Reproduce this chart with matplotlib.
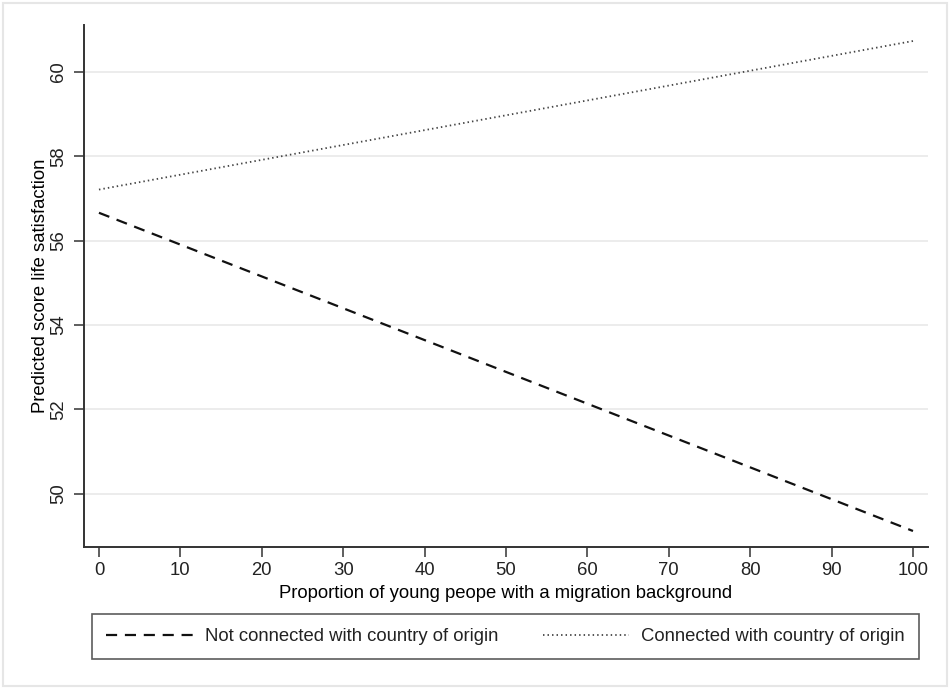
import matplotlib
matplotlib.use('Agg')
import matplotlib.pyplot as plt
from matplotlib.patches import Rectangle

# predicted scores at 0 and 100 % migration background
x = [0, 100]
not_connected = [56.66, 49.12]
connected = [57.21, 60.73]
xticks = [0, 10, 20, 30, 40, 50, 60, 70, 80, 90, 100]
yticks = [50, 52, 54, 56, 58, 60]

plt.rcParams['font.family'] = ['Liberation Sans', 'DejaVu Sans']
plt.rcParams['font.size'] = 13.3
plt.rcParams['text.color'] = '#222222'

fig = plt.figure(figsize=(9.5, 6.9), dpi=100)
fig.patches.append(Rectangle((0.003, 0.006), 0.994, 0.99, transform=fig.transFigure,
                             fill=False, edgecolor='#e6e6e6', linewidth=1.5))
ax = fig.add_axes([0.0884, 0.2072, 0.8884, 0.7566])

ax.plot(x, not_connected, color='#111111', lw=1.6, dashes=(5, 3.5),
        label='Not connected with country of origin')
ax.plot(x, connected, color='#444444', lw=1.3, dashes=(0.8, 1.7),
        label='Connected with country of origin')

ax.set_xlim(-1.84, 101.84)
ax.set_ylim(48.74, 61.11)
ax.set_xticks(xticks)
ax.set_yticks(yticks)
ax.grid(axis='y', color='#e9e9e9', lw=1.2)
ax.set_axisbelow(True)

for s in ['top', 'right']:
    ax.spines[s].set_visible(False)
for s in ['left', 'bottom']:
    ax.spines[s].set_color('#333333')
    ax.spines[s].set_linewidth(1.4)

ax.tick_params(axis='both', colors='#333333', labelcolor='#222222', length=7, width=1.1)
ax.tick_params(axis='x', pad=4)
ax.tick_params(axis='y', pad=5, labelrotation=90)
for lbl in ax.get_yticklabels():
    lbl.set_va('center')

ax.set_xlabel('Proportion of young peope with a migration background', labelpad=4)
ax.set_ylabel('Predicted score life satisfaction', labelpad=1)

leg = fig.legend(loc='lower left', bbox_to_anchor=(0.0968, 0.045, 0.8705, 0.064),
                 mode='expand', ncol=2, frameon=True, fancybox=False,
                 handlelength=4.7, handletextpad=0.65, borderaxespad=0, borderpad=0.75,
                 columnspacing=1.0, handleheight=0.7)
leg.get_frame().set_edgecolor('#333333')
leg.get_frame().set_linewidth(1.2)

fig.savefig('out.png', dpi=100)
